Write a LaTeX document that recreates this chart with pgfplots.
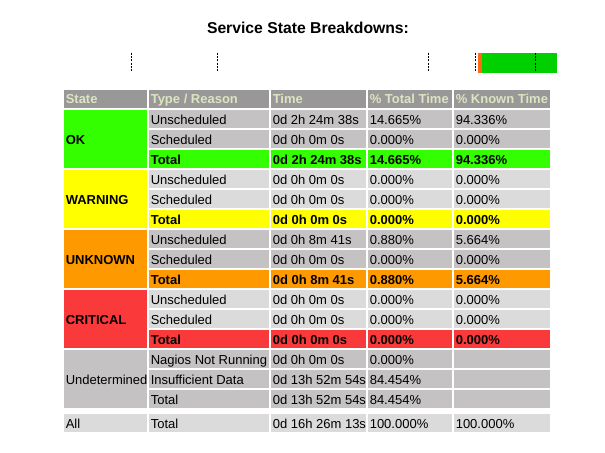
\documentclass[border=0pt]{standalone}
\usepackage{pgfplots}
\pgfplotsset{compat=1.18}
\usepackage{fontspec}
\setmainfont{Liberation Sans}
\definecolor{hdr}{HTML}{999797}
\definecolor{hdrtext}{HTML}{DCE5C1}
\definecolor{odd}{HTML}{C4C2C2}
\definecolor{even}{HTML}{DBDBDB}
\definecolor{okc}{HTML}{33FF00}
\definecolor{warnc}{HTML}{FFFF00}
\definecolor{unkc}{HTML}{FF9900}
\definecolor{critc}{HTML}{FA3A3A}
\definecolor{tlgreen}{HTML}{00D000}
\definecolor{tlorange}{HTML}{FF6A1A}
% cell: x1, y1, x2, y2, colour
\newcommand\cell[5]{\addplot[draw=none,fill=#5,forget plot] coordinates {(#1,#2) (#3,#2) (#3,#4) (#1,#4)} --cycle;}
% cells of columns 2-5: top, bottom, colour
\newcommand\crow[3]{\cell{149}{#1}{269}{#2}{#3}\cell{271}{#1}{366}{#2}{#3}\cell{368}{#1}{452}{#2}{#3}\cell{454}{#1}{550}{#2}{#3}}
% texts of columns 2-5: baseline, font, a, b, c, d
\newcommand\trow[6]{%
\node[anchor=base west,inner sep=0pt] at (axis cs:150.5,#1) {\tfont#2#3};
\node[anchor=base west,inner sep=0pt] at (axis cs:272.5,#1) {\tfont#2#4};
\node[anchor=base west,inner sep=0pt] at (axis cs:369.5,#1) {\tfont#2#5};
\node[anchor=base west,inner sep=0pt] at (axis cs:455.5,#1) {\tfont#2#6};}
\newcommand\tfont{\fontsize{9.75}{11}\selectfont}
\newcommand\tlmark[1]{\addplot[black,line width=0.75pt,dash pattern=on 1.5pt off 1pt,forget plot] coordinates {(#1,52.7) (#1,70.7)};}
\begin{document}
\begin{tikzpicture}
\begin{axis}[
  scale only axis, width=453.75pt, height=339pt,
  xmin=0, xmax=605, ymin=0, ymax=452, y dir=reverse,
  hide axis, clip=false]
% title
\node[anchor=base,inner sep=0pt] at (axis cs:308,34) {\fontsize{11.8}{14}\selectfont\bfseries Service State Breakdowns:};
% timeline
\cell{477.7}{52.7}{481.7}{72.7}{tlorange}
\cell{481.7}{52.7}{556.7}{72.7}{tlgreen}
\tlmark{131.3}
\tlmark{217.3}
\tlmark{428.7}
\tlmark{475.3}
\tlmark{535.3}
% header
\cell{64}{90}{147}{108}{hdr}
\crow{90}{108}{hdr}
% state cells
\cell{64}{110}{147}{168}{okc}
\cell{64}{170}{147}{228}{warnc}
\cell{64}{230}{147}{288}{unkc}
\cell{64}{290}{147}{348}{critc}
\cell{64}{350}{147}{408}{odd}
\cell{64}{414}{147}{432}{even}
% rows
\crow{110}{128}{odd}
\crow{130}{148}{odd}
\crow{150}{168}{okc}
\crow{170}{188}{even}
\crow{190}{208}{even}
\crow{210}{228}{warnc}
\crow{230}{248}{odd}
\crow{250}{268}{odd}
\crow{270}{288}{unkc}
\crow{290}{308}{even}
\crow{310}{328}{even}
\crow{330}{348}{critc}
\crow{350}{368}{odd}
\crow{370}{388}{odd}
\crow{390}{408}{odd}
\crow{414}{432}{even}
% header text
\node[anchor=base west,inner sep=0pt] at (axis cs:65.5,104) {\tfont\bfseries\color{hdrtext}State};
\trow{104}{\bfseries\color{hdrtext}}{Type / Reason}{Time}{\% Total Time}{\% Known Time}
% state labels
\node[anchor=base west,inner sep=0pt] at (axis cs:65.5,144.3) {\tfont\bfseries OK};
\node[anchor=base west,inner sep=0pt] at (axis cs:65.5,204.3) {\tfont\bfseries WARNING};
\node[anchor=base west,inner sep=0pt] at (axis cs:65.5,264.3) {\tfont\bfseries UNKNOWN};
\node[anchor=base west,inner sep=0pt] at (axis cs:65.5,324.3) {\tfont\bfseries CRITICAL};
\node[anchor=base west,inner sep=0pt] at (axis cs:65.5,384.3) {\tfont Undetermined};
\node[anchor=base west,inner sep=0pt] at (axis cs:65.5,428.3) {\tfont All};
% row texts
\trow{124.3}{}{Unscheduled}{0d 2h 24m 38s}{14.665\%}{94.336\%}
\trow{144.3}{}{Scheduled}{0d 0h 0m 0s}{0.000\%}{0.000\%}
\trow{164.3}{\bfseries}{Total}{0d 2h 24m 38s}{14.665\%}{94.336\%}
\trow{184.3}{}{Unscheduled}{0d 0h 0m 0s}{0.000\%}{0.000\%}
\trow{204.3}{}{Scheduled}{0d 0h 0m 0s}{0.000\%}{0.000\%}
\trow{224.3}{\bfseries}{Total}{0d 0h 0m 0s}{0.000\%}{0.000\%}
\trow{244.3}{}{Unscheduled}{0d 0h 8m 41s}{0.880\%}{5.664\%}
\trow{264.3}{}{Scheduled}{0d 0h 0m 0s}{0.000\%}{0.000\%}
\trow{284.3}{\bfseries}{Total}{0d 0h 8m 41s}{0.880\%}{5.664\%}
\trow{304.3}{}{Unscheduled}{0d 0h 0m 0s}{0.000\%}{0.000\%}
\trow{324.3}{}{Scheduled}{0d 0h 0m 0s}{0.000\%}{0.000\%}
\trow{344.3}{\bfseries}{Total}{0d 0h 0m 0s}{0.000\%}{0.000\%}
\trow{364.3}{}{Nagios Not Running}{0d 0h 0m 0s}{0.000\%}{}
\trow{384.3}{}{Insufficient Data}{0d 13h 52m 54s}{84.454\%}{}
\trow{404.3}{}{Total}{0d 13h 52m 54s}{84.454\%}{}
\trow{428.3}{}{Total}{0d 16h 26m 13s}{100.000\%}{100.000\%}
\end{axis}
\pgfresetboundingbox
\path[use as bounding box] (current axis.south west) rectangle (current axis.north east);
\end{tikzpicture}
\end{document}
